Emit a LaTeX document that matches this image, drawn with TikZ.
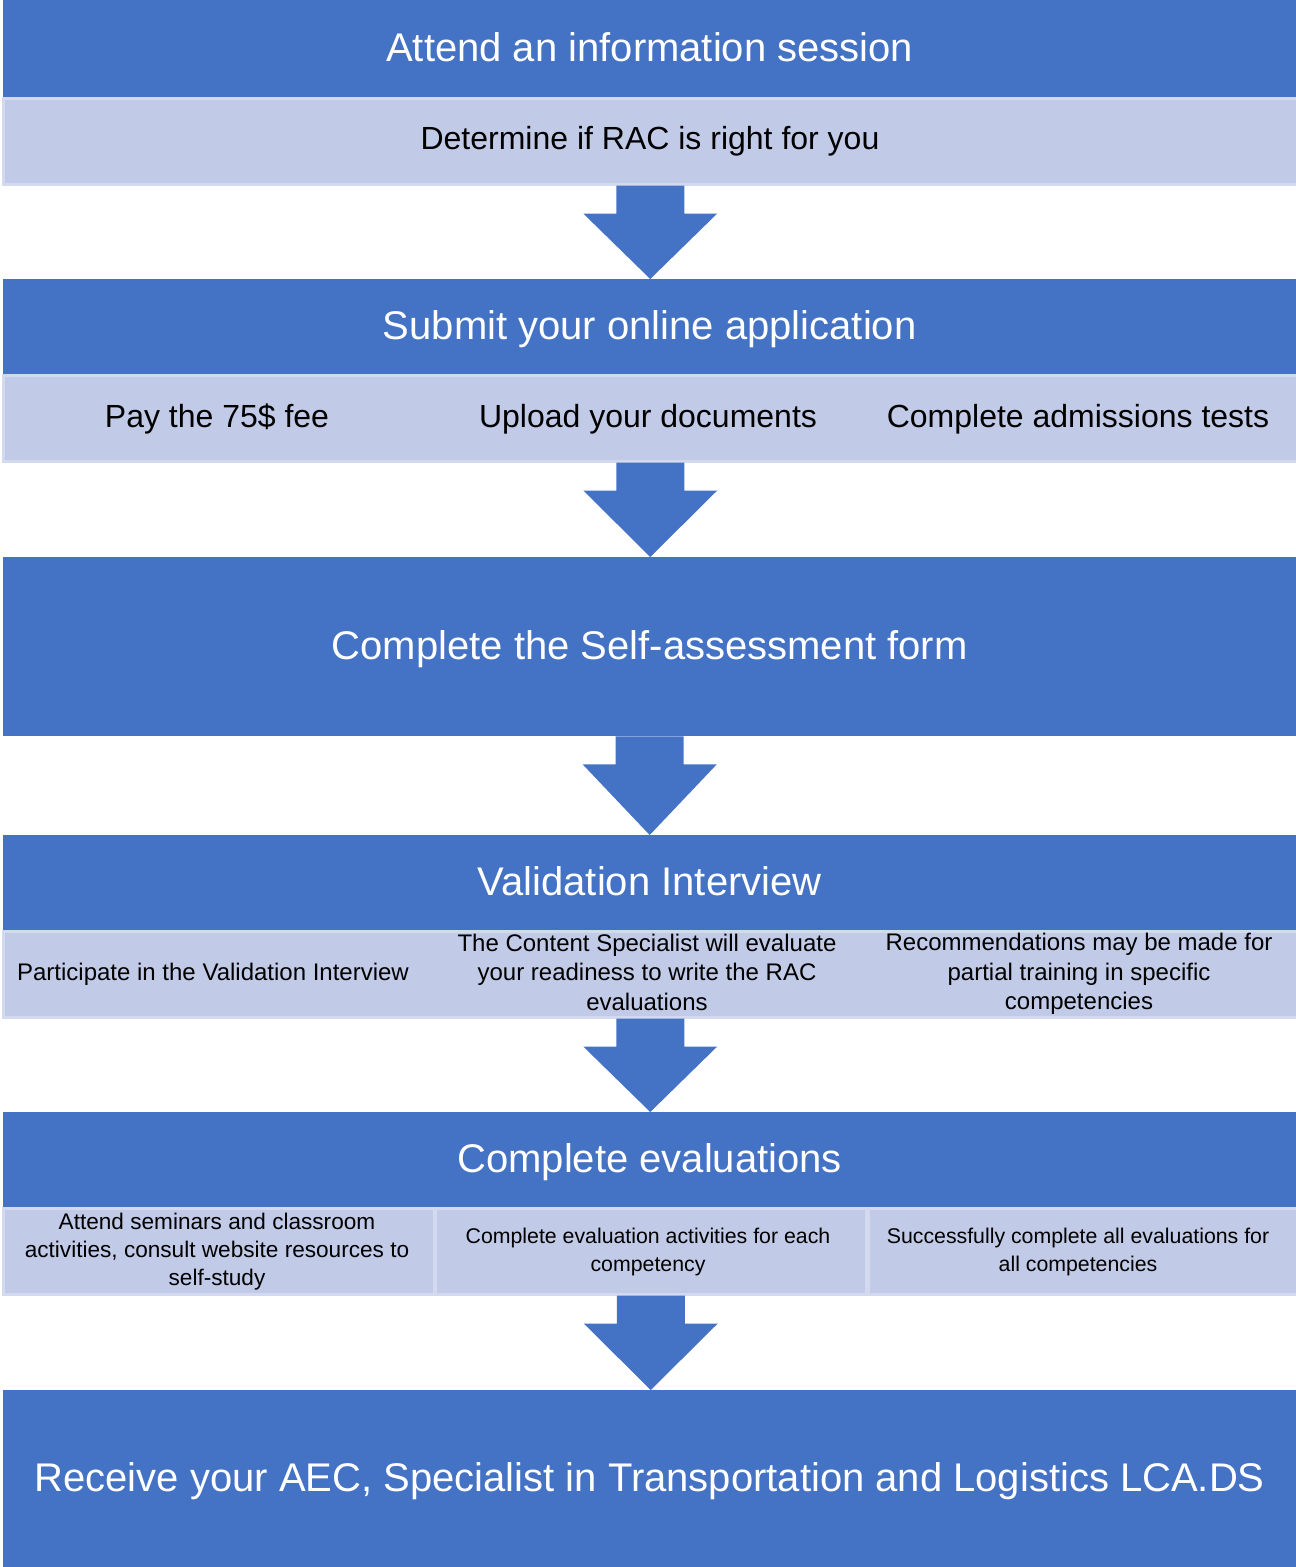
\documentclass[tikz,border=0pt]{standalone}
\usepackage{fontspec}
\setmainfont{Liberation Sans}
\usetikzlibrary{calc}
\definecolor{deep}{HTML}{4472C4}
\definecolor{pale}{HTML}{C1CAE7}
\definecolor{paleline}{HTML}{D3D9EE}
\tikzset{
  stepbox/.style={fill=deep, draw=none, text=white, inner sep=0pt, anchor=north west,
    minimum width=1293pt, text height=34pt, text depth=8pt, font=\fontsize{40}{46}\selectfont},
  band/.style={fill=pale, draw=paleline, line width=2.5pt, inner sep=0pt, anchor=north west,
    minimum height=86pt},
  big/.style={text=black, inner sep=0pt, font=\fontsize{32}{38}\selectfont},
  small/.style={text=black, inner sep=0pt, align=center, font=\fontsize{24}{29.5}\selectfont},
  tiny/.style={text=black, inner sep=0pt, align=center, font=\fontsize{21.3}{27.5}\selectfont},
  flow/.style={fill=deep, draw=none},
}
% block arrow from the bottom of one band to the top of the next box
\newcommand\flowdown[2]{%
  \fill[flow] let \p1=(#1.south), \p2=(#2.north) in
    (\x1-34,\y1) -- (\x1+34,\y1) -- (\x1+34,\y1-28) -- (\x1+67,\y1-28)
    -- (\x1,\y2) -- (\x1-67,\y1-28) -- (\x1-34,\y1-28) -- cycle;}

\begin{document}
\begin{tikzpicture}[x=1pt, y=-1pt]
  \useasboundingbox (0,0) rectangle (1296,1567);

  % step 1
  \node[stepbox, minimum height=97pt] (attend) at (3,0) {Attend an information session};
  \node[band, minimum width=1294pt] (decide) at (2,97) {};
  \node[big] (decidetxt) at (650,141) {Determine if RAC is right for you};

  % step 2
  \node[stepbox, minimum height=95pt] (submit) at (3,279) {Submit your online application};
  \node[band, minimum width=1294pt] (apply) at (2,374) {};
  \node[big] (fee) at (217,419) {Pay the 75\$ fee};
  \node[big] (upload) at (648,419) {Upload your documents};
  \node[big] (tests) at (1078,419) {Complete admissions tests};

  % step 3
  \node[stepbox, minimum height=179pt] (selfform) at (3,557) {Complete the Self-assessment form};

  % step 4
  \node[stepbox, minimum height=95pt] (interview) at (3,835) {Validation Interview};
  \node[band, minimum width=1294pt] (valid) at (2,930) {};
  \node[small] (takepart) at (213,974) {Participate in the Validation Interview};
  \node[small] (readiness) at (647,972) {The Content Specialist will evaluate\\your readiness to write the RAC\\evaluations};
  \node[small] (training) at (1079,974) {Recommendations may be made for\\partial training in specific\\competencies};

  % step 5
  \node[stepbox, minimum height=95pt] (evals) at (3,1112) {Complete evaluations};
  \node[band, minimum width=431pt] (evalA) at (2,1207) {};
  \node[band, minimum width=431pt] (evalB) at (434,1207) {};
  \node[band, minimum width=429pt] (evalC) at (867,1207) {};
  \node[tiny, font=\fontsize{22.6}{28}\selectfont] (seminars) at (217,1252) {Attend seminars and classroom\\activities, consult website resources to\\self-study};
  \node[tiny] (activities) at (648,1252) {Complete evaluation activities for each\\competency};
  \node[tiny] (allcomp) at (1078,1252) {Successfully complete all evaluations for\\all competencies};

  % step 6
  \node[stepbox, minimum height=177pt] (receive) at (3,1390) {Receive your AEC, Specialist in Transportation and Logistics LCA.DS};

  \flowdown{decide}{submit}
  \flowdown{apply}{selfform}
  \flowdown{selfform}{interview}
  \flowdown{valid}{evals}
  \flowdown{evalB}{receive}
\end{tikzpicture}
\end{document}
